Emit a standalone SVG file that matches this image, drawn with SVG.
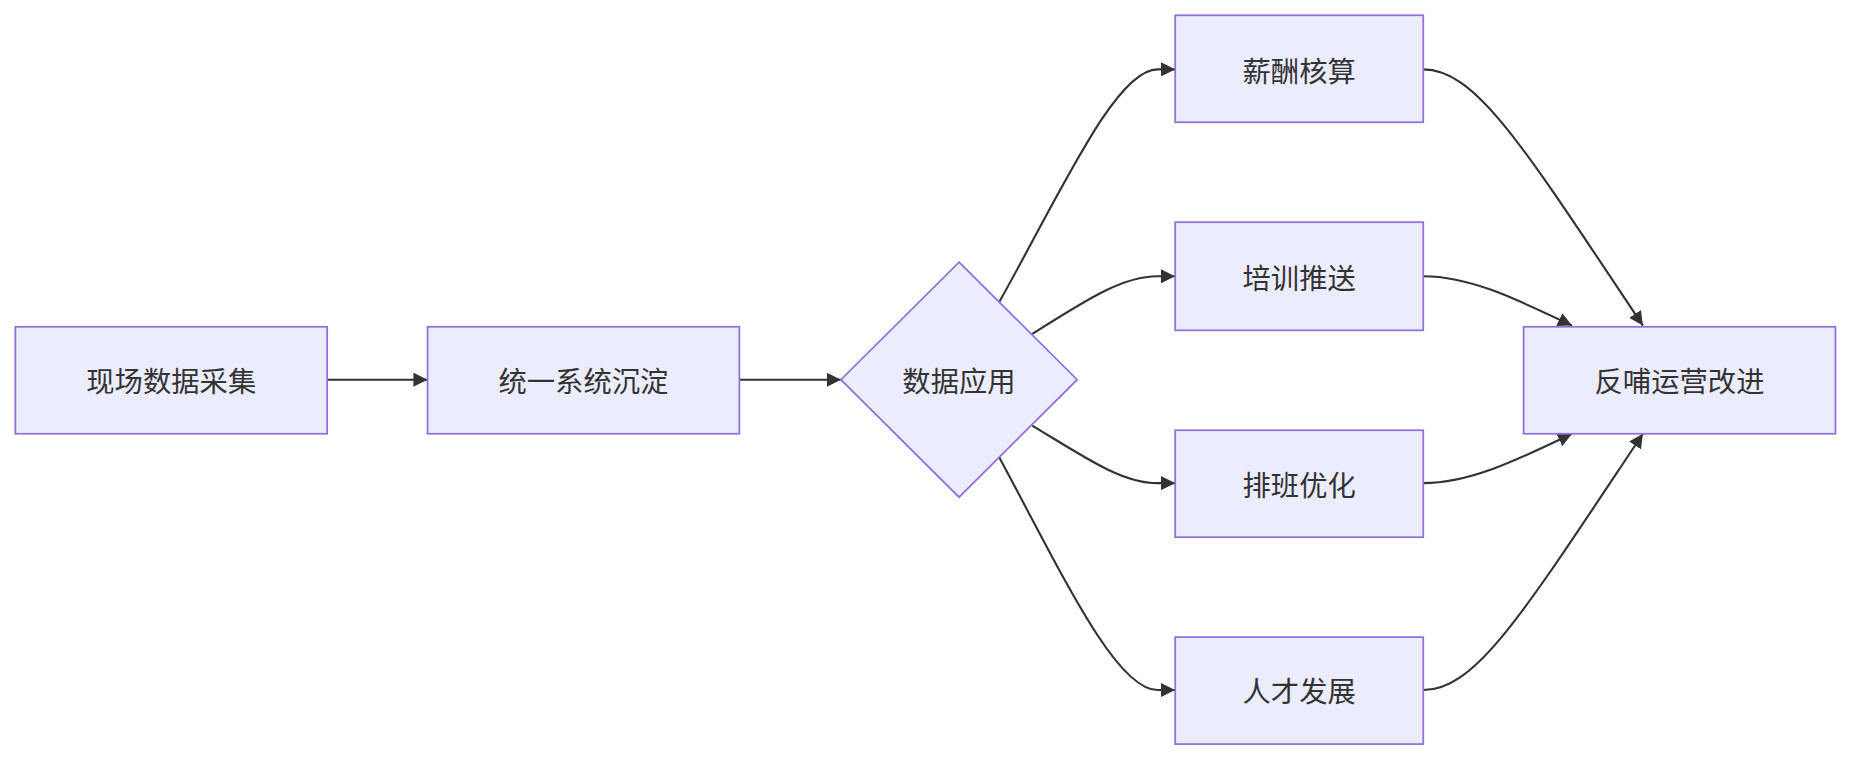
<svg xmlns="http://www.w3.org/2000/svg" width="1852" height="764" viewBox="0 0 1852 764">
<style>
.n{fill:#ECECFF;stroke:#9370DB;stroke-width:1.5}
.t{font-family:"Noto Sans CJK SC","Noto Sans",sans-serif;font-size:24px;fill:#333;text-anchor:middle;dominant-baseline:central}
.e{fill:none;stroke:#333;stroke-width:1.8}
</style>
<defs><marker id="a" viewBox="0 0 10 10" refX="10" refY="5" markerWidth="12" markerHeight="12" markerUnits="userSpaceOnUse" orient="auto"><path d="M0,0L10,5L0,10z" fill="#333"/></marker></defs>
<rect width="1852" height="764" fill="#fff"/>
<g transform="scale(1.1811,1.1755)">
<g id="edges">
<path class="e" marker-end="url(#a)" d="M277,323L362,323"/>
<path class="e" marker-end="url(#a)" d="M626,323L712,323"/>
<path class="e" marker-end="url(#a)" d="M846,257C900,160 945,59 980,59L995,59"/>
<path class="e" marker-end="url(#a)" d="M874,284C920,255 950,235 980,235L995,235"/>
<path class="e" marker-end="url(#a)" d="M874,362C920,390 950,411 980,411L995,411"/>
<path class="e" marker-end="url(#a)" d="M846,389C900,490 945,587 980,587L995,587"/>
<path class="e" marker-end="url(#a)" d="M1205,59C1250,59 1290,125 1391,277"/>
<path class="e" marker-end="url(#a)" d="M1205,235C1245,235 1285,255 1331,277"/>
<path class="e" marker-end="url(#a)" d="M1205,411C1245,411 1285,391 1331,369"/>
<path class="e" marker-end="url(#a)" d="M1205,587C1250,587 1290,521 1391,369"/>
</g>
<g id="n1"><rect class="n" x="13" y="278" width="264" height="91"/><text class="t" x="145" y="323">现场数据采集</text></g>
<g id="n2"><rect class="n" x="362" y="278" width="264" height="91"/><text class="t" x="494" y="323">统一系统沉淀</text></g>
<g id="n3"><path class="n" d="M812,223L912,323L812,423L712,323z"/><text class="t" x="812" y="323">数据应用</text></g>
<g id="n4"><rect class="n" x="995" y="13" width="210" height="91"/><text class="t" x="1100" y="59">薪酬核算</text></g>
<g id="n5"><rect class="n" x="995" y="189" width="210" height="92"/><text class="t" x="1100" y="235">培训推送</text></g>
<g id="n6"><rect class="n" x="995" y="366" width="210" height="91"/><text class="t" x="1100" y="411">排班优化</text></g>
<g id="n7"><rect class="n" x="995" y="542" width="210" height="91"/><text class="t" x="1100" y="587">人才发展</text></g>
<g id="n8"><rect class="n" x="1290" y="278" width="264" height="91"/><text class="t" x="1422" y="323">反哺运营改进</text></g>
</g>
</svg>
